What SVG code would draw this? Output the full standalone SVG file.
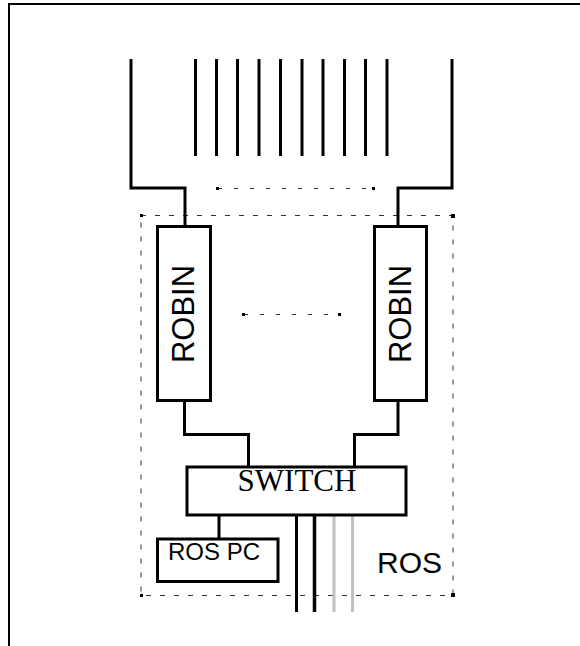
<svg xmlns="http://www.w3.org/2000/svg" width="580" height="646" viewBox="0 0 580 646">
<style>
.wire{fill:none;stroke:#000;stroke-width:3}
.box{fill:#fff;stroke:#000;stroke-width:3}
.gray{fill:none;stroke:#c0c0c0;stroke-width:3}
.dash{fill:none;stroke:#333;stroke-width:1;stroke-dasharray:5 9}
.dots{fill:none;stroke:#333;stroke-width:1;stroke-dasharray:4 12}
.dot{fill:#000}
.sans{font-family:"Liberation Sans",Arial,sans-serif;fill:#000}
.serif{font-family:"Liberation Serif","Times New Roman",serif;fill:#000}
</style>
<rect width="580" height="646" fill="#fff"/>
<path d="M9,646 V4 H582" fill="none" stroke="#000" stroke-width="2"/>
<g id="ros">
<rect x="141" y="215.5" width="312" height="380" class="dash"/>
<rect class="dot" x="140" y="214" width="3" height="3"/>
<rect class="dot" x="451" y="214" width="4" height="4"/>
<rect class="dot" x="140" y="594" width="3" height="3"/>
<rect class="dot" x="451" y="593" width="4" height="4"/>
<text class="sans" x="377" y="573" font-size="30">ROS</text>
</g>
<g id="connectors">
<path class="wire" d="M131,59 V188 H185 V226"/>
<path class="wire" d="M452,59 V188 H398 V226"/>
<path class="wire" d="M195.5,59 V156 M216.5,59 V156 M237.5,59 V156 M259,59 V156 M280.5,59 V156 M302,59 V156 M323,59 V156 M344.5,59 V156 M365.5,59 V156 M387,59 V156"/>
<path class="dots" d="M218,188.5 H374"/>
<rect class="dot" x="216" y="187" width="3" height="3"/>
<rect class="dot" x="372" y="187" width="3" height="3"/>
<path class="dots" d="M244,314.5 H340"/>
<rect class="dot" x="242" y="313" width="3" height="3"/>
<rect class="dot" x="338" y="313" width="3" height="3"/>
<path class="wire" d="M184.5,400 V434.5 H248.5 V467"/>
<path class="wire" d="M398,400 V434.5 H354.5 V467"/>
<path class="wire" d="M219,515 V539"/>
<path class="wire" d="M296.5,515 V612"/>
<path fill="none" stroke="#000" stroke-width="3.5" d="M314.5,515 V612"/>
<path class="gray" d="M334,515 V612 M352.5,515 V612"/>
</g>
<g id="robin1">
<rect class="box" x="157.5" y="226.5" width="53" height="174"/>
<text class="sans" font-size="31" text-anchor="middle" transform="translate(194,314) rotate(-90)">ROBIN</text>
</g>
<g id="robin2">
<rect class="box" x="374.5" y="226.5" width="52" height="174"/>
<text class="sans" font-size="31" text-anchor="middle" transform="translate(411,314) rotate(-90)">ROBIN</text>
</g>
<g id="switch">
<rect class="box" x="187" y="467" width="219" height="48"/>
<text class="serif" x="297" y="491" font-size="31" text-anchor="middle">SWITCH</text>
</g>
<g id="rospc">
<rect class="box" x="157.5" y="539" width="120.5" height="42.5"/>
<text class="sans" x="168" y="560" font-size="24">ROS PC</text>
</g>
</svg>
